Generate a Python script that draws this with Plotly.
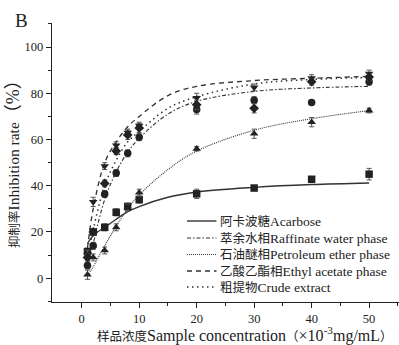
import plotly.graph_objects as go

# ---- data ----
conc = [1, 2, 4, 6, 8, 10, 20, 30, 40, 50]

acarbose = [11.5, 20, 22, 28.5, 31, 34, 36.5, 39, 42.8, 45]
raffinate = [5.5, 14, 36.4, 45.5, 54, 61, 73, 77, 76, 85]
petroleum = [1.5, 9, 12, 22, 30.5, 37, 56, 62.5, 67.5, 72.5]
ethyl = [10, 33, 48.5, 57.5, 63, 66, 78, 82.5, 86.5, 88.5]
crude = [9, 20, 41, 55, 62, 65, 75, 73.5, 85, 87]

err_acarbose = [1.5, 1.5, 1.5, 1.5, 1.5, 1.5, 2, 1, 1, 2.5]
err_raffinate = [1.5, 1.5, 1.5, 1.5, 1.5, 1.5, 2, 1.5, 1, 1.5]
err_petroleum = [2, 1.5, 1.5, 1.5, 1.5, 1.5, 1, 2, 2, 1]
err_ethyl = [2, 2, 1.5, 1.5, 1.5, 1.5, 2, 1.5, 1.5, 1.5]
err_crude = [1.5, 1.5, 1.5, 1.5, 2, 2, 2, 2, 1.5, 1.5]

# fitted curves
fit_x = [1, 2, 4, 6, 8, 10, 15, 20, 30, 40, 50]
fit_acarbose = [15, 18.5, 22, 25.5, 28.8, 31, 35, 37.3, 39.3, 40.5, 41.2]
fit_raffinate = [4, 15, 34, 46, 54.5, 60.5, 71, 76.5, 80.8, 82.3, 83]
fit_petroleum = [1, 5, 14, 22.5, 30, 36, 47, 55, 64, 69, 72.5]
fit_ethyl = [13, 30, 50, 59, 65.5, 70, 79, 83, 85.5, 86.5, 87.3]
fit_crude = [8, 21, 40, 51, 59, 63.5, 73.5, 78.5, 84, 86, 86.8]

names_cn = ["阿卡波糖", "萃余水相", "石油醚相", "乙酸乙酯相", "粗提物"]
names_en = ["Acarbose", "Raffinate water phase", "Petroleum ether phase",
            "Ethyl acetate phase", "Crude extract"]

x_ticks = [0, 10, 20, 30, 40, 50]
y_ticks = [0, 20, 40, 60, 80, 100]

series = [
    (acarbose, err_acarbose, fit_acarbose, "square", "solid", 1.4),
    (raffinate, err_raffinate, fit_raffinate, "circle", "4px,2px,1.5px,2px", 1.1),
    (petroleum, err_petroleum, fit_petroleum, "triangle-up", "1px,1px", 1.1),
    (ethyl, err_ethyl, fit_ethyl, "triangle-down", "5px,4px", 1.3),
    (crude, err_crude, fit_crude, "diamond", "1.5px,3.5px", 1.5),
]

SERIF = "Liberation Serif, Noto Sans CJK SC, serif"
INK = "#222"
CJK = "<span style='font-size:12.5px'>{}</span>"

fig = go.Figure()
for (vals, errs, fit, sym, dash, lw), n in zip(series, names_en):
    fig.add_trace(go.Scatter(
        x=fit_x, y=fit, mode="lines", name=n, line_shape="spline",
        line=dict(color="#333", width=lw, dash=dash), showlegend=False))
for (vals, errs, fit, sym, dash, lw), n in zip(series, names_en):
    fig.add_trace(go.Scatter(
        x=conc, y=vals, mode="markers", name=n, showlegend=False,
        marker=dict(symbol=sym, size=7.5, color=INK),
        error_y=dict(type="data", array=errs, thickness=1, width=2.5, color="#555")))

# ---- legend drawn in paper coordinates ----
W, H = 399, 345
L, R, T, B = 52, 0, 23, 43
pw, ph = W - L - R, H - T - B
def px(xp):
    return (xp - L) / pw
def py(yp):
    return (H - B - yp) / ph

legend_rows = [221, 238, 254.5, 271, 287]
shapes = []
annotations = []
for (vals, errs, fit, sym, dash, lw), cn, en, yr in zip(series, names_cn, names_en, legend_rows):
    shapes.append(dict(type="line", xref="paper", yref="paper",
                       x0=px(187), x1=px(216.5), y0=py(yr), y1=py(yr),
                       line=dict(color="#333", width=lw, dash=dash)))
    annotations.append(dict(text=CJK.format(cn) + en, xref="paper", yref="paper",
                            x=px(217.5), y=py(yr), xanchor="left", yanchor="middle",
                            showarrow=False,
                            font=dict(family=SERIF, size=13.5, color=INK)))

annotations.append(dict(
    text=CJK.format("样品浓度") + "Sample concentration" + CJK.format("（")
    + "×10<sup>-3</sup>mg/mL" + CJK.format("）"),
    xref="paper", yref="paper", x=px(245), y=py(335), xanchor="center",
    yanchor="middle", showarrow=False, font=dict(family=SERIF, size=16, color=INK)))
annotations.append(dict(
    text=CJK.format("抑制率") + "Inhibition rate"
    + "<span style='font-size:18px'>（%）</span>",
    xref="paper", yref="paper", x=px(13), y=py(160), xanchor="center",
    yanchor="middle", textangle=-90, showarrow=False,
    font=dict(family=SERIF, size=15.5, color=INK)))
annotations.append(dict(text="B", xref="paper", yref="paper", x=px(21), y=py(20),
                        xanchor="center", yanchor="middle", showarrow=False,
                        font=dict(family=SERIF, size=19, color=INK)))

fig.update_layout(
    width=W, height=H,
    margin=dict(l=L, r=R, t=T, b=B),
    paper_bgcolor="white", plot_bgcolor="white",
    font=dict(family=SERIF, size=12, color=INK),
    showlegend=False,
    xaxis=dict(range=[-5.17, 55.2], showgrid=False, zeroline=False,
               showline=True, linecolor=INK, linewidth=1.3,
               tickmode="array", tickvals=x_ticks,
               ticks="outside", ticklen=5, tickwidth=1.2, tickcolor=INK,
               minor=dict(tickvals=[5, 15, 25, 35, 45, 55], ticks="outside",
                          ticklen=3, tickwidth=1, tickcolor=INK),
               tickfont=dict(family=SERIF, size=12.5, color=INK)),
    yaxis=dict(range=[-10.3, 110.4], showgrid=False, zeroline=False,
               showline=True, linecolor=INK, linewidth=1.3,
               tickmode="array", tickvals=y_ticks,
               ticks="outside", ticklen=5, tickwidth=1.2, tickcolor=INK,
               minor=dict(tickvals=[-10, 10, 30, 50, 70, 90, 110], ticks="outside",
                          ticklen=3, tickwidth=1, tickcolor=INK),
               tickfont=dict(family=SERIF, size=12.5, color=INK)),
    shapes=shapes,
    annotations=annotations,
)

fig.write_html("out.html")
